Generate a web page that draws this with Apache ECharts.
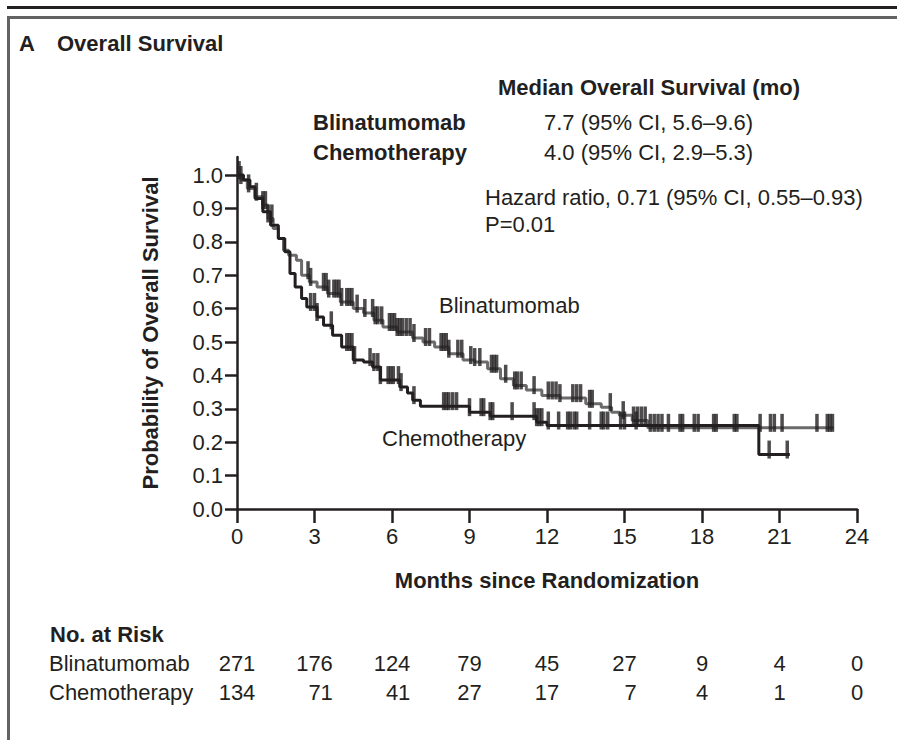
<!DOCTYPE html>
<html>
<head>
<meta charset="utf-8">
<script src="https://cdn.jsdelivr.net/npm/echarts@6/dist/echarts.min.js"></script>
<style>
html,body{margin:0;padding:0;background:#fff;}
#chart{width:897px;height:740px;}
</style>
</head>
<body>
<div id="chart"></div>
<script>
// ---------------- data ----------------
const xTicks = [0, 3, 6, 9, 12, 15, 18, 21, 24];
const yTicks = [0, 0.1, 0.2, 0.3, 0.4, 0.5, 0.6, 0.7, 0.8, 0.9, 1.0];

const blinaTime = [0, 0.15, 0.4, 0.7, 1.0, 1.2, 1.4, 1.6, 1.8, 2.0, 2.3, 2.5, 2.8, 3.1, 3.5, 4.0, 4.5, 4.9, 5.3, 5.65, 6.2, 6.8, 7.2, 7.65, 8.2, 8.75, 9.2, 9.7, 10.2, 10.7, 11.2, 11.8, 12.5, 13.5, 14.1, 14.5, 14.8, 15.3, 15.9, 23.1];
const blinaSurv = [1.0, 0.985, 0.96, 0.935, 0.91, 0.87, 0.84, 0.81, 0.775, 0.76, 0.745, 0.70, 0.68, 0.665, 0.645, 0.62, 0.60, 0.587, 0.565, 0.545, 0.53, 0.512, 0.50, 0.485, 0.465, 0.446, 0.44, 0.42, 0.39, 0.37, 0.356, 0.34, 0.332, 0.315, 0.305, 0.29, 0.281, 0.265, 0.243, 0.243];

const chemoTime = [0, 0.25, 0.5, 0.7, 1.0, 1.3, 1.6, 1.85, 2.05, 2.25, 2.5, 2.7, 3.1, 3.35, 3.7, 4.05, 4.5, 4.9, 5.25, 5.55, 6.3, 6.6, 6.8, 7.1, 9.0, 9.8, 11.6, 12.0, 20.2, 21.4];
const chemoSurv = [1.0, 0.985, 0.965, 0.93, 0.89, 0.85, 0.81, 0.77, 0.705, 0.665, 0.63, 0.605, 0.575, 0.55, 0.52, 0.485, 0.446, 0.44, 0.425, 0.386, 0.365, 0.347, 0.326, 0.308, 0.29, 0.278, 0.26, 0.25, 0.163, 0.163];

const blinaCensor = [0.08, 0.15, 0.45, 0.75, 1.0, 1.1, 1.2, 1.35, 2.75, 2.85, 3.35, 3.45, 3.55, 3.75, 3.85, 3.95, 4.05, 4.25, 4.35, 4.45, 4.65, 4.95, 5.25, 5.35, 5.45, 5.6, 5.9, 6.0, 6.1, 6.2, 6.3, 6.4, 6.55, 6.7, 6.85, 7.3, 7.45, 7.9, 8.0, 8.1, 8.2, 8.55, 8.7, 9.05, 9.2, 9.4, 9.85, 9.95, 10.05, 10.4, 10.75, 10.85, 11.0, 11.5, 12.05, 12.2, 12.35, 12.5, 13.0, 13.15, 13.3, 13.65, 13.75, 14.45, 14.95, 15.35, 15.5, 15.65, 15.8, 16.0, 16.15, 16.3, 16.45, 16.7, 17.15, 17.25, 17.7, 17.85, 18.45, 18.55, 19.25, 19.35, 20.25, 20.65, 20.8, 21.1, 22.45, 22.85, 22.95, 23.05];
const chemoCensor = [2.85, 3.0, 3.1, 3.65, 4.25, 4.35, 4.45, 4.55, 5.15, 5.3, 5.45, 5.55, 5.85, 5.95, 6.05, 6.25, 6.35, 6.85, 8.0, 8.1, 8.2, 8.35, 8.5, 9.0, 9.45, 9.55, 9.8, 9.9, 10.65, 11.5, 11.6, 11.7, 11.8, 12.05, 12.45, 12.8, 12.9, 13.05, 13.15, 13.65, 14.1, 14.2, 14.35, 14.85, 15.0, 15.45, 20.6, 21.3];

const riskBlina = [271, 176, 124, 79, 45, 27, 9, 4, 0];
const riskChemo = [134, 71, 41, 27, 17, 7, 4, 1, 0];

// ---------------- helpers ----------------
function survAt(times, survs, t) {
  let v = survs[0];
  for (let i = 0; i < times.length; i++) { if (times[i] <= t) v = survs[i]; else break; }
  return v;
}
const pairs = (ts, ss) => ts.map((t, i) => [t, ss[i]]);

const INK = '#231f20';
const FONT = '"Liberation Sans", Arial, sans-serif';
const FS = 22;
const digitW = FS * 0.556;

function txt(text, x, y, bold, align) {
  return {
    type: 'text', x: x, y: y, silent: true,
    style: {
      text: text, fill: INK,
      font: (bold ? 'bold ' : '') + FS + 'px ' + FONT,
      align: align || 'left', verticalAlign: 'middle',
      textAlign: align || 'left', textVerticalAlign: 'middle'
    }
  };
}

const rich = {};
[1, 2, 3].forEach(d => { rich['w' + d] = { width: d * digitW, align: 'right', fontSize: FS, fontFamily: FONT, color: INK }; });

function riskAxis(values, offset, alignTo) {
  return {
    type: 'value', min: 0, max: 24, gridIndex: 0, position: 'bottom', offset: offset,
    axisLine: { show: false }, axisTick: { show: false }, splitLine: { show: false },
    axisLabel: {
      customValues: xTicks, margin: 0, color: INK, fontSize: FS, fontFamily: FONT,
      rich: rich,
      formatter: function (v) {
        const i = xTicks.indexOf(v);
        if (i < 0) return '';
        const d = String(alignTo[i]).length;
        return '{w' + d + '|' + values[i] + '}';
      }
    }
  };
}

const chart = echarts.init(document.getElementById('chart'), null, { renderer: 'svg' });

const option = {
  animation: false,
  backgroundColor: '#ffffff',
  textStyle: { fontFamily: FONT, color: INK },
  grid: { left: 237, right: 40, top: 157, bottom: 231, containLabel: false },
  xAxis: [
    {
      type: 'value', min: 0, max: 24, interval: 3,
      axisLine: { show: true, onZero: false, lineStyle: { color: INK, width: 2.5 } },
      axisTick: { show: true, length: 14, lineStyle: { color: INK, width: 2.5 } },
      axisLabel: { color: INK, fontSize: FS, fontFamily: FONT, margin: 16 },
      splitLine: { show: false },
      name: 'Months since Randomization', nameLocation: 'middle', nameGap: 60,
      nameTextStyle: { color: INK, fontSize: FS, fontWeight: 'bold', fontFamily: FONT }
    },
    riskAxis(riskBlina, 143, riskBlina),
    riskAxis(riskChemo, 172, riskBlina)
  ],
  yAxis: {
    type: 'value', min: 0, max: 1.054,
    axisLine: { show: true, onZero: false, lineStyle: { color: INK, width: 2.5 } },
    axisTick: { show: true, length: 12, customValues: yTicks, lineStyle: { color: INK, width: 2.5 } },
    axisLabel: { customValues: yTicks, color: INK, fontSize: FS, fontFamily: FONT, margin: 14,
      formatter: v => v.toFixed(1) },
    splitLine: { show: false },
    name: 'Probability of Overall Survival', nameLocation: 'middle', nameGap: 76,
    nameTextStyle: { color: INK, fontSize: FS, fontWeight: 'bold', fontFamily: FONT }
  },
  series: [
    {
      name: 'Blinatumomab', type: 'line', step: 'end', symbol: 'none', z: 2,
      data: pairs(blinaTime, blinaSurv),
      lineStyle: { color: '#6b6b6b', width: 3 }
    },
    {
      name: 'Chemotherapy', type: 'line', step: 'end', symbol: 'none', z: 3,
      data: pairs(chemoTime, chemoSurv),
      lineStyle: { color: INK, width: 3 }
    },
    {
      name: 'Blinatumomab censored', type: 'scatter', symbol: 'rect', symbolSize: [3.5, 18], symbolOffset: [0, -5], z: 4,
      data: blinaCensor.map(t => [t, survAt(blinaTime, blinaSurv, t)]),
      itemStyle: { color: INK }, silent: true
    },
    {
      name: 'Chemotherapy censored', type: 'scatter', symbol: 'rect', symbolSize: [3.5, 18], symbolOffset: [0, -5], z: 4,
      data: chemoCensor.map(t => [t, survAt(chemoTime, chemoSurv, t)]),
      itemStyle: { color: INK }, silent: true
    }
  ],
  graphic: [
    { type: 'rect', silent: true, shape: { x: 7, y: 6, width: 890, height: 3 }, style: { fill: INK } },
    { type: 'rect', silent: true, shape: { x: 7, y: 16, width: 890, height: 3 }, style: { fill: '#636363' } },
    { type: 'rect', silent: true, shape: { x: 7, y: 16, width: 3, height: 724 }, style: { fill: '#636363' } },
    txt('A', 19, 43, true),
    txt('Overall Survival', 57, 43, true),
    txt('Median Overall Survival (mo)', 498, 87, true),
    txt('Blinatumomab', 313, 122, true),
    txt('Chemotherapy', 313, 152, true),
    txt('7.7 (95% CI, 5.6\u20139.6)', 544, 122, false),
    txt('4.0 (95% CI, 2.9\u20135.3)', 544, 152, false),
    txt('Hazard ratio, 0.71 (95% CI, 0.55\u20130.93)', 485, 197, false),
    txt('P=0.01', 485, 224, false),
    txt('Blinatumomab', 439, 305, false),
    txt('Chemotherapy', 382, 438, false),
    txt('No. at Risk', 50, 634, true),
    txt('Blinatumomab', 49, 663, false),
    txt('Chemotherapy', 49, 692, false)
  ]
};
chart.setOption(option);
</script>
</body>
</html>
